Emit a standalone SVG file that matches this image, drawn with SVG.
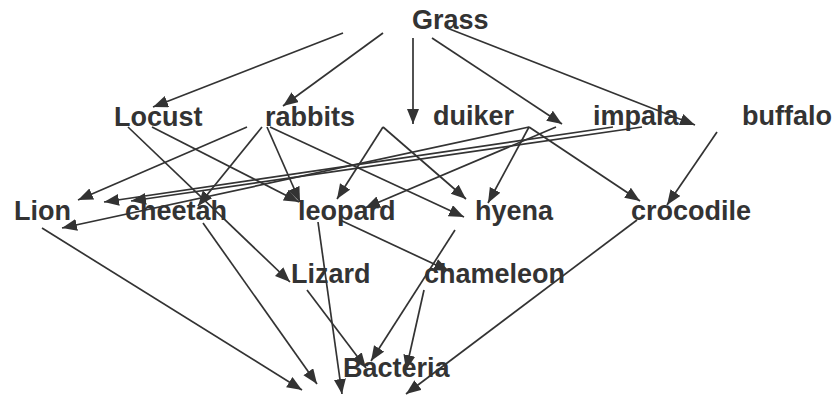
<svg xmlns="http://www.w3.org/2000/svg" width="835" height="396" viewBox="0 0 835 396">
<defs>
<marker id="ah" markerUnits="userSpaceOnUse" markerWidth="16" markerHeight="13" refX="15" refY="6" orient="auto">
<path d="M0,0 L15,6 L0,12 z" fill="#333"/>
</marker>
<style>
.c{stroke:#333;stroke-width:1.7;fill:none;marker-end:url(#ah)}
.t{font-family:"Liberation Sans",Arial,sans-serif;font-weight:bold;font-size:27px;fill:#333}
</style>
</defs>
<rect width="835" height="396" fill="#fff"/>
<g id="connectors">
<path class="c" d="M343,33 L153,107"/>
<path class="c" d="M383,33 L283,106"/>
<path class="c" d="M413,38 L413,124"/>
<path class="c" d="M432,38 L562,124"/>
<path class="c" d="M447,28 L695,125"/>
<path class="c" d="M128,127 L290,282"/>
<path class="c" d="M152,127 L299,202"/>
<path class="c" d="M247,127 L78,200"/>
<path class="c" d="M262,127 L198,206"/>
<path class="c" d="M267,127 L300,202"/>
<path class="c" d="M270,127 L464,217"/>
<path class="c" d="M383,127 L337,199"/>
<path class="c" d="M383,127 L466,199"/>
<path class="c" d="M529,127 L62,228"/>
<path class="c" d="M529,127 L488,203"/>
<path class="c" d="M529,127 L640,201"/>
<path class="c" d="M556,127 L365,208"/>
<path class="c" d="M613,127 L104,202"/>
<path class="c" d="M642,127 L131,201"/>
<path class="c" d="M717,132 L667,205"/>
<path class="c" d="M42,228 L302,390"/>
<path class="c" d="M203,223 L317,384"/>
<path class="c" d="M318,222 L342,394"/>
<path class="c" d="M340,220 L449,271"/>
<path class="c" d="M455,230 L371,361"/>
<path class="c" d="M637,220 L406,394"/>
<path class="c" d="M307,290 L366,368"/>
<path class="c" d="M424,290 L406,370"/>
</g>
<g id="grass"><text class="t" x="412" y="29">Grass</text></g>
<g id="locust"><text class="t" x="114" y="126">Locust</text></g>
<g id="rabbits"><text class="t" x="265" y="126">rabbits</text></g>
<g id="duiker"><text class="t" x="433" y="125">duiker</text></g>
<g id="impala"><text class="t" x="593" y="125">impala</text></g>
<g id="buffalo"><text class="t" x="742" y="125">buffalo</text></g>
<g id="lion"><text class="t" x="14" y="220">Lion</text></g>
<g id="cheetah"><text class="t" x="125" y="220">cheetah</text></g>
<g id="leopard"><text class="t" x="298" y="220">leopard</text></g>
<g id="hyena"><text class="t" x="475" y="220">hyena</text></g>
<g id="crocodile"><text class="t" x="631" y="220">crocodile</text></g>
<g id="lizard"><text class="t" x="291" y="283">Lizard</text></g>
<g id="chameleon"><text class="t" x="424" y="283">chameleon</text></g>
<g id="bacteria"><text class="t" x="343" y="377">Bacteria</text></g>
</svg>
